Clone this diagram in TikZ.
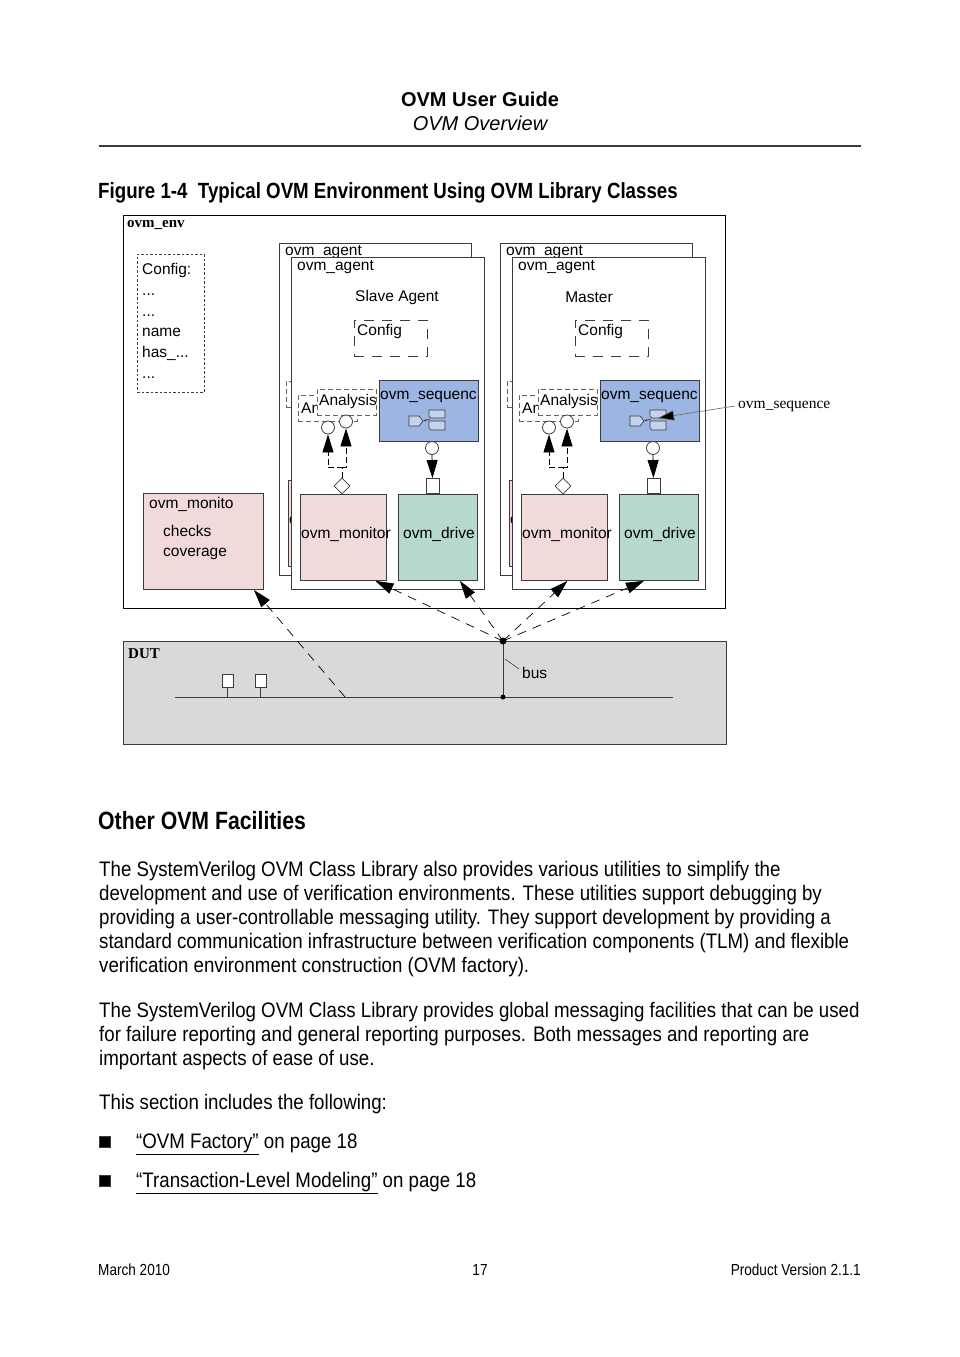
\documentclass[tikz,border=0pt]{standalone}
\usepackage{fontspec}
\setmainfont{Liberation Sans}
\newfontfamily\narrowsf[FakeStretch=0.85]{Liberation Sans}
\newfontfamily\bodysf[FakeStretch=0.89]{Liberation Sans}
\newfontfamily\serifrm{Liberation Serif}
\usetikzlibrary{positioning, arrows.meta, shapes.geometric}

\definecolor{monpink}{RGB}{242,218,218}
\definecolor{drvteal}{RGB}{183,216,206}
\definecolor{seqblue}{RGB}{156,181,226}
\definecolor{dutgray}{RGB}{217,217,217}
\definecolor{edge}{RGB}{60,60,60}

\begin{document}
\begin{tikzpicture}[x=1pt, y=-1pt,
  font=\fontsize{15.5}{18}\selectfont,
  blk/.style={draw=edge, line width=0.9pt, anchor=north west, inner sep=0pt},
  txt/.style={anchor=west, inner sep=0pt},
  cfgbox/.style={blk, dash pattern=on 10pt off 8pt},
  anbox/.style={blk, draw=edge!80, fill=white, dash pattern=on 5pt off 3pt},
  port/.style={circle, draw=edge, fill=white, line width=0.8pt, minimum size=13pt, inner sep=0pt},
  bigtip/.style={-{Triangle[length=18pt, width=11pt]}},
  feed/.style={draw=black, line width=0.8pt, dash pattern=on 6pt off 3pt, bigtip},
  busarrow/.style={draw=black, line width=0.7pt, dash pattern=on 9pt off 7pt, bigtip},
  body/.style={inner sep=0pt, font=\bodysf\fontsize{21}{24}\selectfont},
  serifbold/.style={txt, font=\serifrm\bfseries\fontsize{15}{18}\selectfont},
]
\fill[white] (0,0) rectangle (960,1357);
\useasboundingbox (0,0) rectangle (960,1357);

% page header
\node[font=\bfseries\fontsize{20}{24}\selectfont] (hdr) at (480,99) {OVM User Guide};
\node[font=\itshape\fontsize{20}{24}\selectfont] (hdrsub) at (480,123) {OVM Overview};
\draw[edge, line width=1.2pt] (99,146) -- (861,146);
\node[txt, font=\narrowsf\bfseries\fontsize{22}{26}\selectfont] (figcap) at (98,193)
  {Figure 1-4~ Typical OVM Environment Using OVM Library Classes};

% environment
\node[blk, draw=black, line width=1.1pt, minimum width=602, minimum height=393] (env) at (123,215) {};
\node[serifbold] (envtxt) at (127,225) {ovm\_env};
\node[blk, dash pattern=on 2.5pt off 2pt, minimum width=67, minimum height=138] (envcfg) at (137,254) {};
\node[anchor=north west, align=left, inner sep=0pt, font=\fontsize{15.5}{20.8}\selectfont] (envcfgtxt) at (142,263)
  {Config:\\...\\...\\name\\has\_...\\...};
\node[blk, fill=monpink, minimum width=120, minimum height=96] (emon) at (143,493) {};
\node[txt] (emontxt) at (149,504) {ovm\_monito};
\node[anchor=north west, align=left, inner sep=0pt, font=\fontsize{15.5}{20}\selectfont] (emonnote) at (163,525)
  {checks\\coverage};

% the two agents, each with a copy behind it
\foreach \ag/\dx/\role/\rx in {s/0/Slave Agent/397, m/221/Master/368} {
  \begin{scope}[xshift=\dx]
    \node[blk, minimum width=192, minimum height=332] (\ag back) at (279,243) {};
    \node[txt] (\ag backname) at (285,252) {ovm\_agent};
    \node[anbox, minimum width=59, minimum height=26] (\ag backan) at (286,381) {};
    \node[blk, fill=monpink, minimum width=86, minimum height=86] (\ag backmon) at (288,480) {};
    \node[txt] (\ag backmontxt) at (289,520) {ovm\_monitor};

    \node[blk, fill=white, minimum width=193, minimum height=332] (\ag agent) at (291,257) {};
    \node[txt] (\ag name) at (297,267) {ovm\_agent};
    \node (\ag role) at (\rx,297) {\role};
    \node[cfgbox, minimum width=73, minimum height=36] (\ag cfg) at (354,320) {};
    \node[txt] (\ag cfgtxt) at (357,331) {Config};

    \node[anbox, minimum width=59, minimum height=26] (\ag an) at (298,395) {};
    \node[txt] (\ag antxt) at (301,408) {An};
    \node[anbox, minimum width=59, minimum height=26] (\ag ana) at (317,389) {};
    \node[txt] (\ag anatxt) at (319,401) {Analysis};
    \node[port] (\ag pa) at (328,427.5) {};
    \node[port] (\ag pb) at (346,421.5) {};

    \node[blk, fill=seqblue, minimum width=99, minimum height=61] (\ag seq) at (379,380) {};
    \node[txt] (\ag seqtxt) at (380,397) {ovm\_sequenc};
    % sequencer icon
    \draw[edge, fill=seqblue!60!white, line width=0.7pt]
      (409,416) -- (419,416) -- (423,421) -- (419,426) -- (409,426) -- cycle;
    \draw[edge, fill=seqblue!60!white, line width=0.7pt]
      (429,410) -- (445,410) -- (445,418) -- (431,418) -- (429,416) -- cycle;
    \draw[edge, fill=seqblue!60!white, line width=0.7pt]
      (429,421) -- (445,421) -- (445,430) -- (431,430) -- (429,428) -- cycle;
    \draw[edge, line width=0.7pt, -{Latex[length=3pt]}] (430,419) -- (423,421);
    \coordinate (\ag icon) at (437,418);
    \node[port] (\ag sp) at (432,448) {};
    \node[blk, anchor=center, fill=white, minimum width=13, minimum height=15] (\ag dport) at (432.5,486) {};
    \draw[black, line width=0.8pt, bigtip] (\ag sp.south) -- (\ag dport.north);

    \node[blk, fill=monpink, minimum width=86, minimum height=86] (\ag mon) at (300,494) {};
    \node[txt] (\ag montxt) at (301,534) {ovm\_monitor};
    \node[blk, fill=drvteal, minimum width=79, minimum height=86] (\ag drv) at (398,494) {};
    \node[txt] (\ag drvtxt) at (403,534) {ovm\_drive};
    \node[diamond, draw=edge, fill=white, line width=0.8pt, minimum size=16pt, inner sep=0pt] (\ag mport) at (342,486) {};
    \draw[feed] (\ag mport.north) -- ++(0,-10) coordinate (\ag fork) -| (\ag pa.south);
    \draw[feed] (\ag fork) -| (\ag pb.south);
  \end{scope}
}

\node[txt, font=\serifrm\fontsize{15.5}{18}\selectfont] (seqnote) at (738,406) {ovm\_sequence};
\draw[edge!80, line width=0.6pt, -{Triangle[length=16pt, width=10pt, fill=black]}] ([xshift=-3pt]seqnote.west) -- (micon);

% DUT and bus
\node[blk, fill=dutgray, minimum width=603, minimum height=103] (dut) at (123,641) {};
\node[serifbold] (duttxt) at (128,654) {DUT};
\coordinate (busl) at (175,697);
\coordinate (busr) at (673,697);
\coordinate (tap) at (503,641);
\coordinate (busend) at (503,697);
\coordinate (buspt) at (345,697);
\draw[edge, line width=0.7pt] (busl) -- (busr);
\draw[edge, line width=0.8pt] (tap) -- (busend);
\fill (tap) circle[radius=3.5pt];
\fill (busend) circle[radius=2.5pt];
\node[txt] (buslbl) at (522,673) {bus};
\coordinate (buslead) at (505,659);
\draw[edge, line width=0.6pt] ([xshift=-3pt, yshift=4pt]buslbl.west) -- (buslead);
\foreach \d/\xx in {1/227.5, 2/260.5} {
  \node[blk, anchor=center, fill=white, minimum width=11, minimum height=13] (dev\d) at (\xx,680.5) {};
  \draw[edge, line width=0.8pt] (dev\d.south) -- (dev\d.south |- busl);
}

% bus traffic to the monitors and drivers
\draw[busarrow] (buspt) -- ([xshift=-10pt]emon.south east);
\draw[busarrow] (tap) -- ([xshift=32pt]smon.south);
\draw[busarrow] (tap) -- ([xshift=22pt]sdrv.south);
\draw[busarrow] (tap) -- ([xshift=3pt]mmon.south);
\draw[busarrow] (tap) -- ([xshift=-15pt]mdrv.south);

% text below the figure
\node[txt, font=\narrowsf\bfseries\fontsize{25}{30}\selectfont] (sec) at (98,821) {Other OVM Facilities};
\node[body, anchor=north west, align=left] (para1) at (99,861)
  {The SystemVerilog OVM Class Library also provides various utilities to simplify the\\
   development and use of verification environments. These utilities support debugging by\\
   providing a user-controllable messaging utility. They support development by providing a\\
   standard communication infrastructure between verification components (TLM) and flexible\\
   verification environment construction (OVM factory).};
\node[body, anchor=north west, align=left] (para2) at (99,1002)
  {The SystemVerilog OVM Class Library provides global messaging facilities that can be used\\
   for failure reporting and general reporting purposes. Both messages and reporting are\\
   important aspects of ease of use.};
\node[body, anchor=base west] (para3) at (99,1109) {This section includes the following:};
\node[blk, fill=black, minimum size=11] (bul1) at (99,1136) {};
\node[body, anchor=base west] (item1) at (136,1148) {\underline{“OVM Factory”} on page 18};
\node[blk, fill=black, minimum size=11] (bul2) at (99,1175) {};
\node[body, anchor=base west] (item2) at (136,1187) {\underline{“Transaction-Level Modeling”} on page 18};

% footer
\node[txt, font=\narrowsf\fontsize{16}{19}\selectfont] (foot1) at (98,1270) {March 2010};
\node[font=\narrowsf\fontsize{16}{19}\selectfont, inner sep=0pt] (foot2) at (480,1270) {17};
\node[anchor=east, inner sep=0pt, font=\narrowsf\fontsize{16}{19}\selectfont] (foot3) at (861,1270) {Product Version 2.1.1};
\end{tikzpicture}
\end{document}
